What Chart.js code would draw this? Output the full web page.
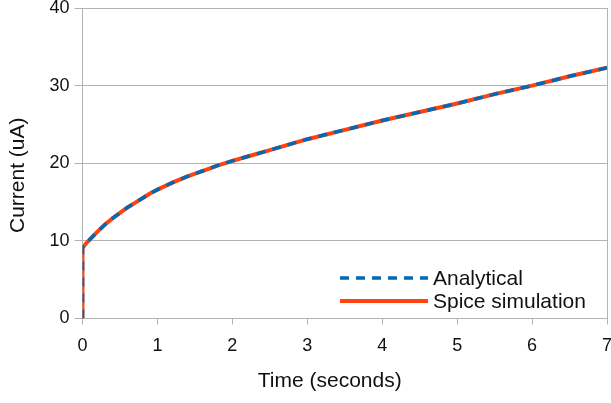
<!DOCTYPE html>
<html>
<head>
<meta charset="utf-8">
<title>Current vs time</title>
<script src="https://cdn.jsdelivr.net/npm/chart.js@4.4.0/dist/chart.umd.min.js"></script>
<style>
  html, body { margin: 0; padding: 0; background: #fff; }
  #wrap { width: 611px; height: 403px; position: relative; }
</style>
</head>
<body>
<div id="wrap"><canvas id="chart"></canvas></div>
<script>
// time in seconds, current in uA
const timeSeconds = [0, 0, 0.05, 0.1, 0.2, 0.3, 0.4, 0.5, 0.6, 0.7, 0.8, 0.9, 1, 1.2, 1.4, 1.6, 1.8, 2, 2.25, 2.5, 2.75, 3, 3.5, 4, 4.5, 5, 5.5, 6, 6.5, 7];
const analyticalCurrent = [0, 9.1, 9.7, 10.2, 11.2, 12.1, 12.9, 13.6, 14.3, 14.9, 15.5, 16.1, 16.6, 17.5, 18.3, 19.0, 19.7, 20.3, 21.0, 21.7, 22.4, 23.1, 24.3, 25.5, 26.6, 27.7, 28.9, 30.0, 31.2, 32.3];
const spiceCurrent = [0, 9.1, 9.7, 10.2, 11.2, 12.1, 12.9, 13.6, 14.3, 14.9, 15.5, 16.1, 16.6, 17.5, 18.3, 19.0, 19.7, 20.3, 21.0, 21.7, 22.4, 23.1, 24.3, 25.5, 26.6, 27.7, 28.9, 30.0, 31.2, 32.3];
const seriesNames = ['Analytical', 'Spice simulation'];
const xTicks = [0, 1, 2, 3, 4, 5, 6, 7];
const yTicks = [0, 10, 20, 30, 40];
const xTitle = 'Time (seconds)';
const yTitle = 'Current (uA)';

const FONT = "'Liberation Sans', Arial, sans-serif";
const GRID = '#b3b3b3';
const TEXT = '#111';

function toPoints(xs, ys) {
  return xs.map((x, i) => ({ x: x, y: ys[i] }));
}

// legend drawn inside the plot, bottom right
const innerLegend = {
  id: 'innerLegend',
  afterDraw(chart) {
    const ctx = chart.ctx;
    const x0 = 340, x1 = 428, textX = 433;
    const rows = [278, 301];
    ctx.save();
    ctx.font = '21px ' + FONT;
    ctx.textBaseline = 'middle';
    ctx.fillStyle = TEXT;
    chart.data.datasets.forEach((ds, i) => {
      const y = rows[i];
      ctx.beginPath();
      ctx.strokeStyle = ds.borderColor;
      ctx.lineWidth = ds.borderWidth;
      ctx.lineCap = 'butt';
      ctx.setLineDash(ds.borderDash || []);
      ctx.moveTo(x0, y);
      ctx.lineTo(x1, y);
      ctx.stroke();
      ctx.setLineDash([]);
      ctx.fillText(ds.label, textX, y + 1);
    });
    ctx.restore();
  }
};

// axis titles are centred on the whole diagram block (plot + tick labels),
// not just the plot area, so they are placed by hand
const axisTitles = {
  id: 'axisTitles',
  afterDraw(chart) {
    const ctx = chart.ctx;
    const area = chart.chartArea;
    ctx.save();
    ctx.font = '21px ' + FONT;
    ctx.fillStyle = TEXT;
    ctx.textAlign = 'center';
    ctx.textBaseline = 'middle';
    ctx.fillText(xTitle, (area.left + area.right) / 2 - 15, 381);
    ctx.translate(18, (area.top + area.bottom) / 2 + 12);
    ctx.rotate(-Math.PI / 2);
    ctx.fillText(yTitle, 0, 0);
    ctx.restore();
  }
};

// keep tick labels from pushing the plot area inwards
function noOverhang(axis) {
  axis.paddingTop = 0;
  axis.paddingBottom = 0;
  axis.paddingLeft = 0;
  axis.paddingRight = 0;
}

new Chart(document.getElementById('chart'), {
  type: 'line',
  data: {
    datasets: [
      {
        label: seriesNames[0],
        data: toPoints(timeSeconds, analyticalCurrent),
        borderColor: '#0369b5',
        borderWidth: 3.5,
        borderDash: [9, 7],
        pointRadius: 0,
        tension: 0,
        fill: false,
      },
      {
        label: seriesNames[1],
        data: toPoints(timeSeconds, spiceCurrent),
        borderColor: '#ff420e',
        borderWidth: 4,
        pointRadius: 0,
        tension: 0,
        fill: false,
      },
    ],
  },
  options: {
    responsive: true,
    maintainAspectRatio: false,
    animation: false,
    layout: { padding: { top: 8, right: 4, left: 0, bottom: 0 } },
    plugins: {
      legend: { display: false },
      tooltip: { enabled: false },
    },
    scales: {
      x: {
        type: 'linear',
        min: 0,
        max: 7,
        afterBuildTicks: (axis) => { axis.ticks = xTicks.map(v => ({ value: v })); },
        afterFit: (axis) => { axis.height = 84.5; noOverhang(axis); },
        border: { display: true, color: GRID, width: 1 },
        grid: {
          drawOnChartArea: true,
          color: (c) => (c.tick && c.tick.value === 7 ? GRID : 'rgba(0,0,0,0)'),
          tickColor: GRID,
          tickLength: 6,
        },
        ticks: {
          color: TEXT,
          padding: 11,
          maxRotation: 0,
          font: { family: FONT, size: 18 },
        },
      },
      y: {
        min: 0,
        max: 40,
        afterBuildTicks: (axis) => { axis.ticks = yTicks.map(v => ({ value: v })); },
        afterFit: (axis) => { axis.width = 82.5; noOverhang(axis); },
        border: { display: true, color: GRID, width: 1 },
        grid: {
          color: GRID,
          tickColor: GRID,
          tickLength: 8,
        },
        ticks: {
          color: TEXT,
          padding: 5,
          font: { family: FONT, size: 18 },
        },
      },
    },
  },
  plugins: [innerLegend, axisTitles],
});
</script>
</body>
</html>
